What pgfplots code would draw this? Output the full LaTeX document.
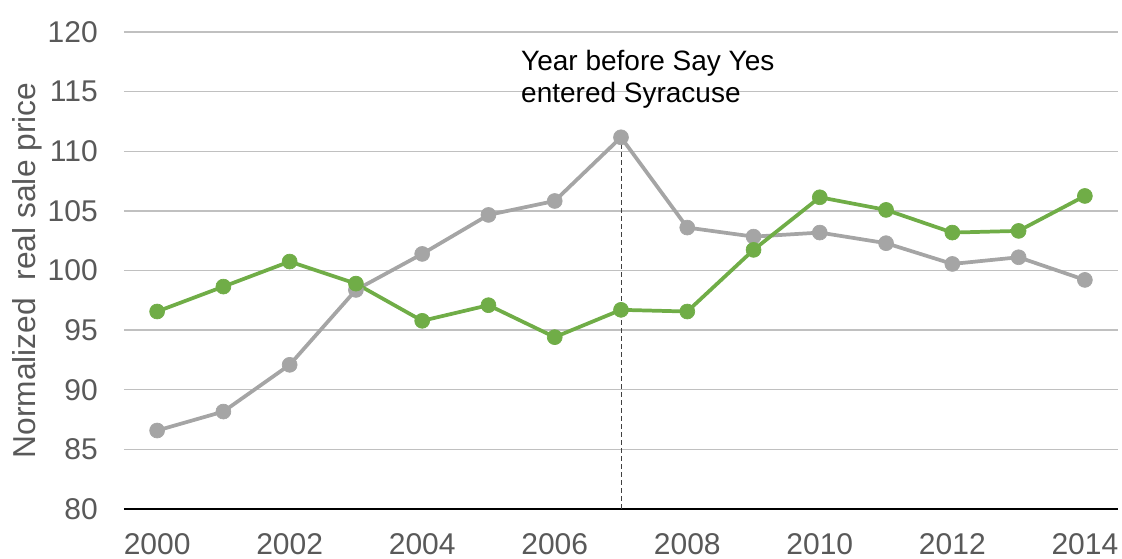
\documentclass[border=0pt]{standalone}
\usepackage{pgfplots}
\pgfplotsset{compat=1.18}
\usepackage{fontspec}
\setmainfont{Liberation Sans}
\definecolor{grn}{HTML}{70AD47}
\definecolor{gry}{HTML}{A5A5A5}
\definecolor{txt}{HTML}{595959}
\definecolor{gridc}{HTML}{C0C0C0}
\begin{document}
\begin{tikzpicture}
\begin{axis}[
  scale only axis,
  width=745.5pt, height=357.75pt,
  xmin=1999.5, xmax=2014.5, ymin=80, ymax=120,
  xtick={2000,2002,...,2014},
  ytick={80,85,...,120},
  ymajorgrids,
  major grid style={gridc, line width=1pt},
  axis x line*=bottom, axis y line*=left,
  y axis line style={draw=none},
  x axis line style={black, line width=1.8pt, -},
  major tick length=0pt, tick style={draw=none},
  tick label style={font=\fontsize{22.5}{27}\selectfont, text=txt, inner sep=0pt},
  xticklabel style={yshift=-18pt},
  yticklabel style={xshift=-19.5pt},
  /pgf/number format/1000 sep={},
  /pgf/number format/assume math mode=true,
  ylabel={Normalized\ \ real sale price},
  ylabel style={at={(axis description cs:-0.0975,0.5)}, anchor=center, font=\fontsize{23.8}{28}\selectfont, text=txt},
  clip=false,
]
\addplot[draw=black!75, dash pattern=on 3.75pt off 2.25pt, line width=0.75pt, forget plot] coordinates {(2007,80) (2007,111.17)};
\addplot[gry, line width=2.8pt, mark=*, mark options={scale=1, fill=gry, draw=gry, line width=0.5pt, mark size=5.6pt}] coordinates {
(2000,86.58) (2001,88.17) (2002,92.09) (2003,98.37) (2004,101.39) (2005,104.66) (2006,105.83) (2007,111.17)
(2008,103.6) (2009,102.84) (2010,103.18) (2011,102.29) (2012,100.55) (2013,101.11) (2014,99.21)};
\addplot[grn, line width=2.8pt, mark=*, mark options={scale=1, fill=grn, draw=grn, line width=0.5pt, mark size=5.6pt}] coordinates {
(2000,96.56) (2001,98.65) (2002,100.75) (2003,98.9) (2004,95.78) (2005,97.09) (2006,94.41) (2007,96.7)
(2008,96.56) (2009,101.73) (2010,106.14) (2011,105.08) (2012,103.18) (2013,103.32) (2014,106.25)};
\node[anchor=north west, inner sep=0pt, align=left, font=\fontsize{21}{24}\selectfont, text=black] at (axis cs:2005.49,118.49) {Year before Say Yes\\entered Syracuse};
\end{axis}
\pgfresetboundingbox
\path[use as bounding box] (-93pt,-37.5pt) rectangle (748.5pt,381.75pt);
\end{tikzpicture}
\end{document}
